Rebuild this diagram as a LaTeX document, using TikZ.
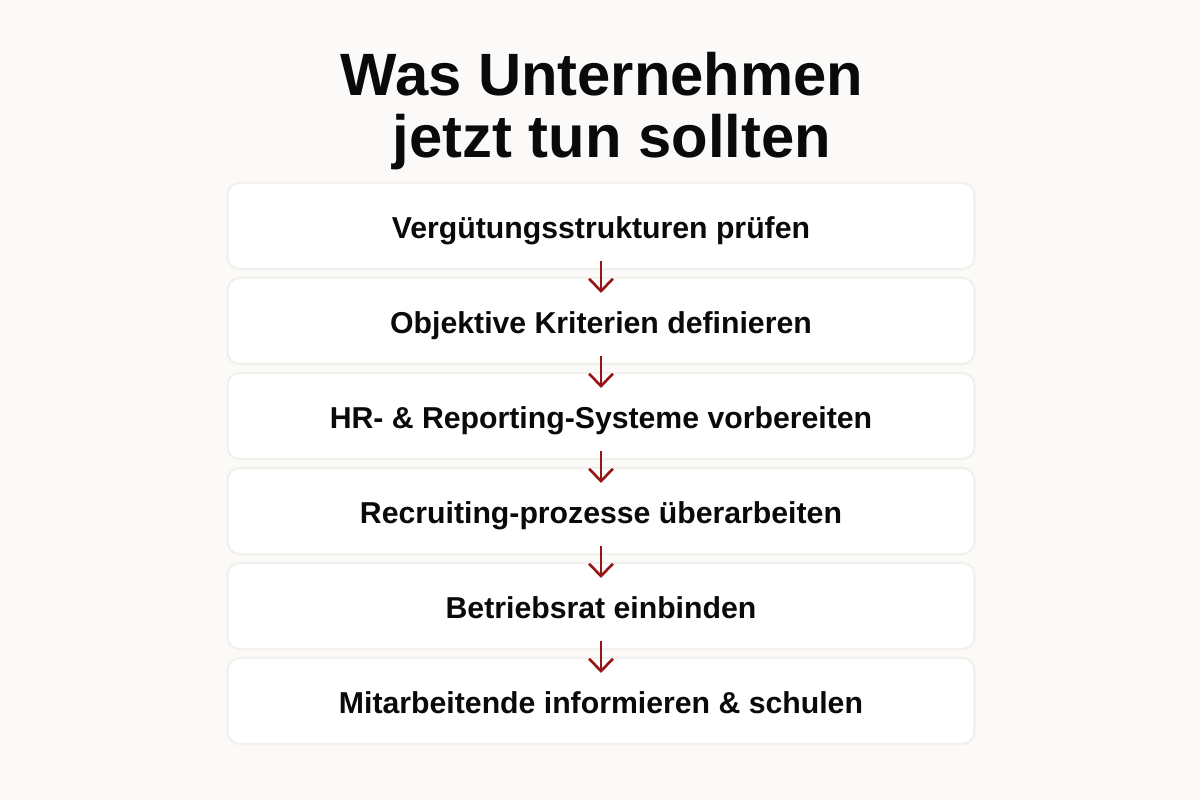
\documentclass[tikz,border=0pt]{standalone}
\usepackage{fontspec}
\setmainfont{Liberation Sans}
\usepackage{tikz}
\usetikzlibrary{arrows.meta,positioning}
\definecolor{wbg}{RGB}{251,250,248}
\definecolor{wbox}{RGB}{255,255,255}
\definecolor{wline}{RGB}{242,240,236}
\definecolor{wtext}{RGB}{10,10,10}
\definecolor{wred}{RGB}{150,22,22}
\tikzstyle{arrow} = [line width=0.75pt,-{Straight Barb[length=3.5pt,width=6.8pt]},color=wred,shorten <=-0.09cm,shorten >=-0.16cm]

\begin{document}
\begin{tikzpicture}[
    title/.style={font=\bfseries\fontsize{17}{17.5}\selectfont, text=wtext, align=center, inner sep=0pt},
    stepbox/.style={rectangle, rounded corners=0.12cm, draw=wline, line width=0.6pt, fill=wbox, minimum width=7.47cm, minimum height=0.86cm, text height=0.72em, text depth=0pt, text=wtext, font=\bfseries\fontsize{8.6}{10}\selectfont}]

% Background
\fill[wbg] (0,0) rectangle (12,8);
\useasboundingbox (0,0) rectangle (12,8);

% Title
\node[title] (head) at (6.02,6.89) {Was Unternehmen\\\hspace*{0.2cm}jetzt tun sollten};

% Steps
\node[stepbox] (s1) at (6.01,5.74) {Vergütungsstrukturen prüfen};
\node[stepbox] (s2) at (6.01,4.79) {Objektive Kriterien definieren};
\node[stepbox] (s3) at (6.01,3.84) {HR- \& Reporting-Systeme vorbereiten};
\node[stepbox] (s4) at (6.01,2.89) {Recruiting-prozesse überarbeiten};
\node[stepbox] (s5) at (6.01,1.94) {Betriebsrat einbinden};
\node[stepbox] (s6) at (6.01,0.99) {Mitarbeitende informieren \& schulen};

% Arrows
\draw[arrow] (s1.south) -- (s2.north);
\draw[arrow] (s2.south) -- (s3.north);
\draw[arrow] (s3.south) -- (s4.north);
\draw[arrow] (s4.south) -- (s5.north);
\draw[arrow] (s5.south) -- (s6.north);

\end{tikzpicture}
\end{document}
